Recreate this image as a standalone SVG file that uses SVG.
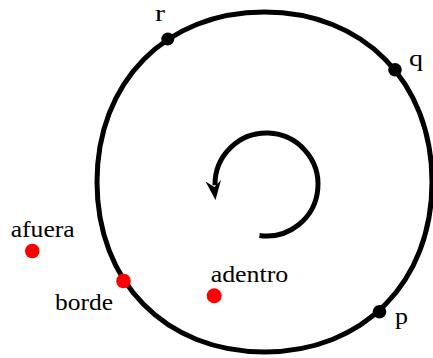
<svg xmlns="http://www.w3.org/2000/svg" width="433" height="358" viewBox="0 0 433 358">
<style>
.lbl{font-family:"Liberation Serif","Times New Roman",serif;font-size:24px;fill:#000}
.edge{fill:none;stroke:#000;stroke-width:5}
.pt{fill:#000}
.red{fill:#ff0000}
</style>
<rect width="433" height="358" fill="#fff"/>
<g id="connectors">
<path class="edge" d="M432,182 C432,282.3 363.3,352 264.5,352 C165.7,352 97,282.3 97,182 C97,81.7 165.7,12 264.5,12 C363.3,12 432,81.7 432,182 Z"/>
<path class="edge" d="M259.5,235.5 A51.5,51.5 0 1 0 215,185.3"/>
<polygon points="215.5,200 205.5,181.5 214.5,187 221,180" fill="#000"/>
</g>
<g id="r"><circle class="pt" cx="167.8" cy="39" r="6.5"/><text class="lbl" x="155" y="21" textLength="10" lengthAdjust="spacingAndGlyphs">r</text></g>
<g id="q"><circle class="pt" cx="395" cy="69.7" r="6.8"/><text class="lbl" x="409" y="66" textLength="14" lengthAdjust="spacingAndGlyphs">q</text></g>
<g id="p"><circle class="pt" cx="379.5" cy="311.7" r="6.8"/><text class="lbl" x="395" y="323.5" textLength="13" lengthAdjust="spacingAndGlyphs">p</text></g>
<g id="afuera"><circle class="red" cx="32.3" cy="251" r="7.3"/><text class="lbl" x="10.7" y="237.3" textLength="64" lengthAdjust="spacingAndGlyphs">afuera</text></g>
<g id="borde"><circle class="red" cx="123.5" cy="281" r="7.3"/><text class="lbl" x="55" y="310" textLength="58" lengthAdjust="spacingAndGlyphs">borde</text></g>
<g id="adentro"><circle class="red" cx="214.2" cy="295.8" r="7.5"/><text class="lbl" x="210.7" y="281.7" textLength="77.6" lengthAdjust="spacingAndGlyphs">adentro</text></g>
</svg>
